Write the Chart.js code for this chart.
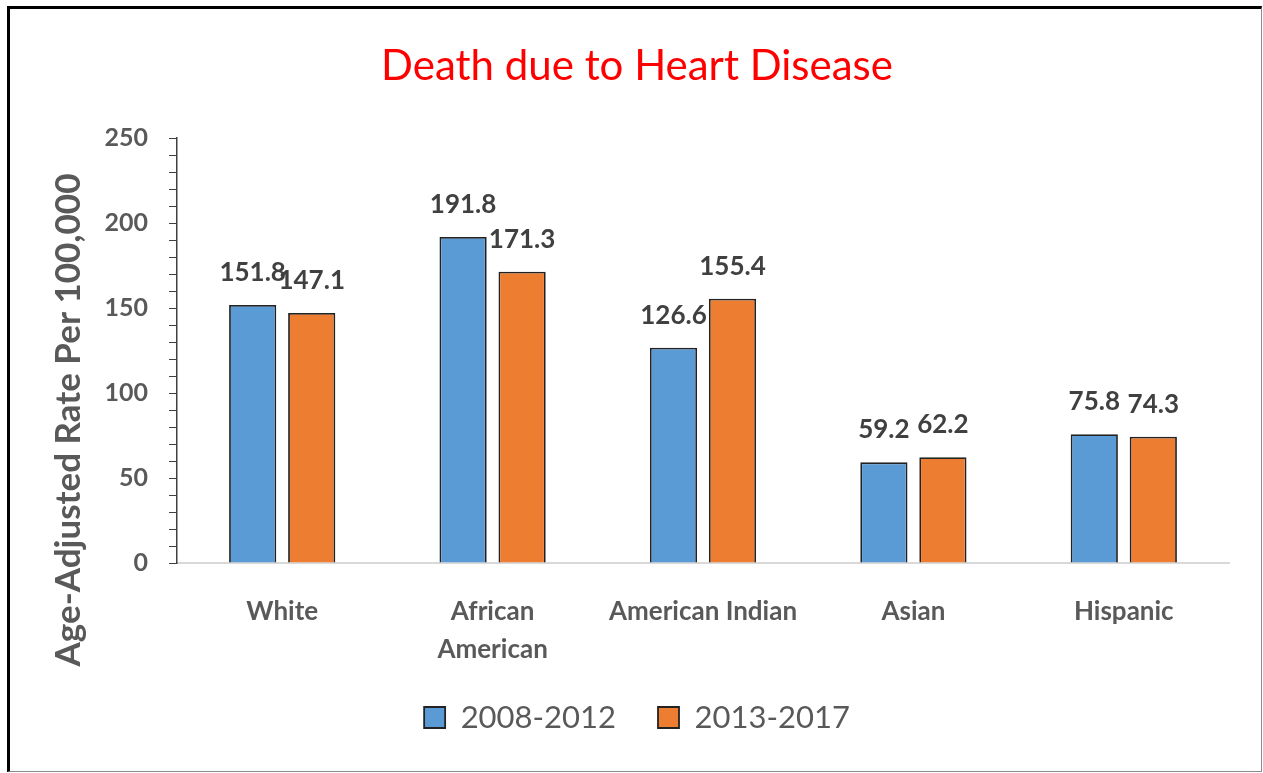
<!DOCTYPE html>
<html>
<head>
<meta charset="utf-8">
<title>Death due to Heart Disease</title>
<script src="https://cdn.jsdelivr.net/npm/chart.js@4.4.1/dist/chart.umd.min.js"></script>
<style>
  html, body { margin: 0; padding: 0; background: #ffffff; }
  #wrap { position: relative; width: 1263px; height: 773px; overflow: hidden; }
  #chart { position: absolute; left: 0; top: 0; }
  #frame {
    position: absolute; left: 7px; top: 6px; width: 1255px; height: 766px;
    box-sizing: border-box;
    border-top: 3px solid #000000; border-left: 3px solid #000000;
    border-right: 1px solid #8c8c8c; border-bottom: 1px solid #8c8c8c;
    pointer-events: none;
  }
</style>
</head>
<body>
<div id="wrap">
  <canvas id="chart" width="1263" height="773"></canvas>
  <div id="frame"></div>
</div>
<script>
// Categories and series
const categories = ['White', ['African', 'American'], 'American Indian', 'Asian', 'Hispanic'];
const rates2008to2012 = [151.8, 191.8, 126.6, 59.2, 75.8];
const rates2013to2017 = [147.1, 171.3, 155.4, 62.2, 74.3];
const seriesNames = ['2008-2012', '2013-2017'];
// Labelled y ticks (minor marks every 10)
const yTickValues = [0, 50, 100, 150, 200, 250];
const chartTitle = 'Death due to Heart Disease';
const yAxisTitle = 'Age-Adjusted Rate Per 100,000';

const FONT = 'Lato, "Open Sans", "Liberation Sans", sans-serif';
const GREY = '#595959';

// Value printed above every bar
const valueLabels = {
  id: 'valueLabels',
  afterDatasetsDraw(chart) {
    const ctx = chart.ctx;
    ctx.save();
    ctx.font = 'bold 26px ' + FONT;
    ctx.fillStyle = '#404040';
    ctx.textAlign = 'center';
    ctx.textBaseline = 'alphabetic';
    chart.data.datasets.forEach((ds, i) => {
      chart.getDatasetMeta(i).data.forEach((bar, j) => {
        ctx.fillText(ds.data[j].toFixed(1), bar.x, bar.y - 24);
      });
    });
    ctx.restore();
  }
};

// Rotated y-axis caption
const sideTitle = {
  id: 'sideTitle',
  afterDraw(chart) {
    const ctx = chart.ctx;
    ctx.save();
    ctx.translate(69, 420);
    ctx.rotate(-Math.PI / 2);
    ctx.font = 'bold 35px ' + FONT;
    ctx.fillStyle = GREY;
    ctx.textAlign = 'center';
    ctx.textBaseline = 'middle';
    ctx.fillText(yAxisTitle, 0, 0);
    ctx.restore();
  }
};

new Chart(document.getElementById('chart'), {
  type: 'bar',
  data: {
    labels: categories,
    datasets: [
      {
        label: seriesNames[0],
        data: rates2008to2012,
        backgroundColor: '#5B9BD5',
        borderColor: '#222222',
        borderWidth: 1.8
      },
      {
        label: seriesNames[1],
        data: rates2013to2017,
        backgroundColor: '#ED7D31',
        borderColor: '#222222',
        borderWidth: 1.8
      }
    ]
  },
  options: {
    responsive: false,
    animation: false,
    devicePixelRatio: 1,
    categoryPercentage: 0.561,
    barPercentage: 0.8,
    layout: { padding: { left: 45, right: 34, top: 0, bottom: 30 } },
    plugins: {
      title: {
        display: true,
        text: chartTitle,
        color: '#FF0000',
        font: { family: FONT, size: 42, weight: 'normal', lineHeight: 1.2 },
        padding: { top: 41, bottom: 46.6 }
      },
      legend: {
        display: true,
        position: 'bottom',
        labels: {
          boxWidth: 21,
          boxHeight: 21,
          padding: 42,
          color: GREY,
          font: { family: FONT, size: 31, weight: 'normal' }
        }
      },
      tooltip: { enabled: false }
    },
    scales: {
      x: {
        grid: { display: false },
        border: { display: true, color: '#d9d9d9', width: 2 },
        ticks: {
          color: GREY,
          padding: 22,
          maxRotation: 0,
          autoSkip: false,
          font: { family: FONT, size: 26, weight: 'bold', lineHeight: 1.45 }
        },
        afterFit(scale) { scale.height = 97; }
      },
      y: {
        min: 0,
        max: 250,
        ticks: {
          stepSize: 10,
          autoSkip: false,
          padding: 21,
          color: GREY,
          font: { family: FONT, size: 25, weight: 'bold' },
          callback: (v) => yTickValues.includes(v) ? String(v) : ''
        },
        grid: {
          display: true,
          drawOnChartArea: false,
          drawTicks: true,
          tickLength: 8,
          color: '#404040',
          lineWidth: 1
        },
        border: { display: true, color: '#404040', width: 1.5 },
        afterFit(scale) { scale.width = 132; }
      }
    }
  },
  plugins: [valueLabels, sideTitle]
});
</script>
</body>
</html>
